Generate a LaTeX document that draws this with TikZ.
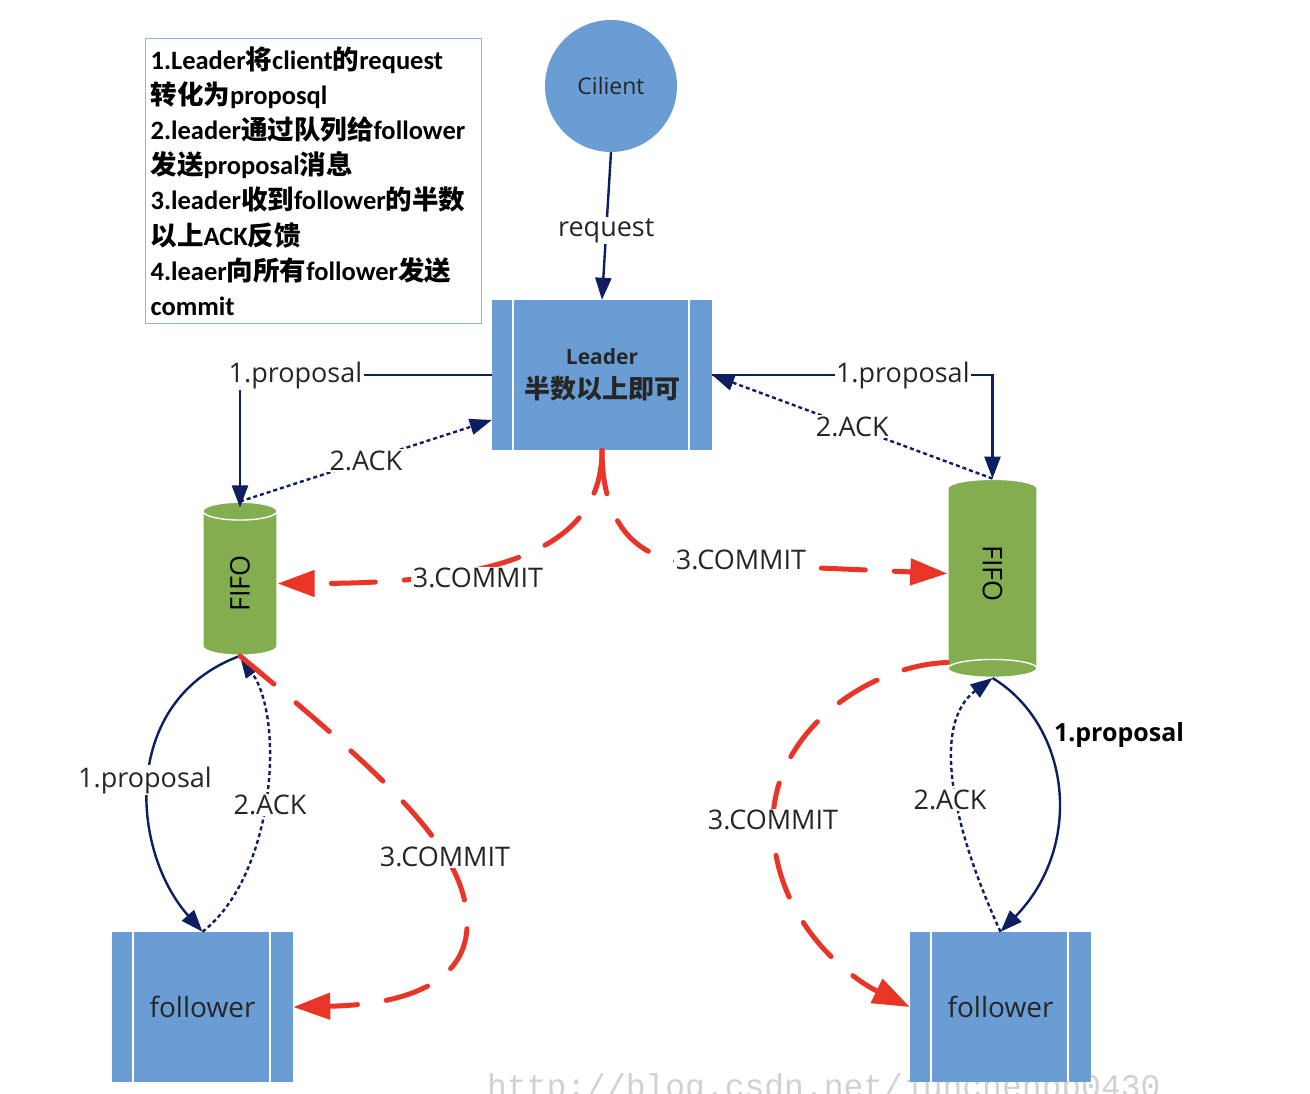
\documentclass[tikz,border=0pt]{standalone}
\usepackage{fontspec}
\setmainfont{Open Sans}
\newfontfamily\cjk{Noto Sans CJK SC}
\newfontfamily\notefont{Carlito}
\newfontfamily\markfont{Liberation Mono}
\usetikzlibrary{shapes.geometric,arrows.meta}

\definecolor{procblue}{RGB}{106,157,211}
\definecolor{fifogreen}{RGB}{130,174,80}
\definecolor{navy}{RGB}{14,30,98}
\definecolor{cmtred}{RGB}{233,52,40}
\definecolor{noteblue}{RGB}{141,180,226}
\definecolor{txtgray}{RGB}{38,38,38}

\begin{document}
\begin{tikzpicture}[
  x=1pt,y=-1pt,
  proc/.style={rectangle,fill=procblue,text=txtgray,inner sep=0pt,align=center,
    minimum width=#1,minimum height=150pt,
    path picture={
      \draw[white,line width=1.6pt]
        ([xshift=21pt]path picture bounding box.north west) --
        ([xshift=21pt]path picture bounding box.south west);
      \draw[white,line width=1.6pt]
        ([xshift=-23pt]path picture bounding box.north east) --
        ([xshift=-23pt]path picture bounding box.south east);}},
  proc/.default=181pt,
  fifo/.style={cylinder,aspect=0.9,fill=fifogreen,draw=white,line width=1.4pt,
    text=black,inner sep=0pt,font=\fontsize{27}{30}\selectfont},
  lbl/.style={fill=white,inner sep=1.5pt,text=txtgray,font=\fontsize{27}{30}\selectfont},
  prop/.style={navy,line width=2.4pt,-{Triangle[length=22pt,width=16pt]}},
  ack/.style={prop,dash pattern=on 4pt off 3pt},
  commit/.style={cmtred,line width=5pt,line cap=round,dash pattern=on 44pt off 29pt,
    -{Triangle[length=37pt,width=26pt]}},
]
  \fill[white] (0,0) rectangle (1310,1094);
  \useasboundingbox (0,0) rectangle (1310,1094);

  \node[anchor=base west,inner sep=0pt,text=black!18,
    font=\markfont\fontsize{33}{33}\selectfont] (mark) at (487,1097)
    {http://blog.csdn.net/junchenbb0430};

  % steps
  \node[draw=noteblue,line width=1.2pt,anchor=north west,inner xsep=5pt,inner ysep=0pt,
    minimum width=336pt,minimum height=285pt,text width=326pt,align=left,
    font=\notefont\bfseries\fontsize{26.5}{35.2}\selectfont] (notes) at (145,38)
    {1.Leader{\cjk 将}client{\cjk 的}request\\
     {\cjk 转化为}proposql\\
     2.leader{\cjk 通过队列给}follower\\
     {\cjk 发送}proposal{\cjk 消息}\\
     3.leader{\cjk 收到}follower{\cjk 的半数}\\
     {\cjk 以上}ACK{\cjk 反馈}\\
     4.leaer{\cjk 向所有}follower{\cjk 发送}\\
     commit};

  \node[circle,fill=procblue,minimum size=132pt,inner sep=0pt,text=txtgray,
    font=\fontsize{23}{26}\selectfont] (client) at (611,86) {Cilient};
  \node[proc=220pt,font=\fontsize{21}{34}\selectfont] (leader) at (602,375)
    {\bfseries Leader\\
     {\cjk\bfseries\fontsize{26}{34}\selectfont 半数以上即可}};

  \node[fifo,rotate=90,minimum width=74pt,minimum height=153pt] (fifoL) at (240,583.5) {FIFO};
  \node[fifo,rotate=-90,minimum width=89pt,minimum height=198pt] (fifoR) at (992.5,573.5) {FIFO};

  \node[proc,font=\fontsize{28}{30}\selectfont] (folL) at (202.5,1007) {follower};
  \node[proc,font=\fontsize{28}{30}\selectfont] (folR) at (1000.5,1007) {follower};

  % leader side
  \draw[prop] (client.south) -- node[lbl,pos=0.53] (req) {request} (leader.north);
  \draw[prop] (leader.west) -| node[lbl,pos=0.39] (propA) {1.proposal} ([yshift=-6pt]fifoL.east);
  \draw[ack] (fifoL.east) -- node[lbl] (ackA) {2.ACK} ([yshift=-45pt]leader.west);
  \draw[prop] (leader.east) -| node[lbl,pos=0.34] (propB) {1.proposal} (fifoR.west);
  \draw[ack] (fifoR.west) -- node[lbl] (ackB) {2.ACK} (leader.east);
  \draw[commit] (leader.south) .. controls +(0,95) and +(230,0) .. (fifoL.south);
  \draw[commit] (leader.south) .. controls (602,515) and (628,553) .. (680,562) -- (fifoR.south);
  \node[lbl] (cmtA) at (478,578) {3.COMMIT};
  \node[lbl] (cmtB) at (741,560) {3.COMMIT};

  % left follower
  \draw[prop] (fifoL.west) .. controls (120,700) and (130,850) .. (folL.north);
  \draw[ack] (folL.north) .. controls (275,875) and (285,720) .. (fifoL.west);
  \draw[commit] (fifoL.west) .. controls (390,780) and (465,850) .. (467,920)
    .. controls (470,990) and (390,1005) .. (folL.east);
  \node[lbl] (propC) at (145,780) {1.proposal};
  \node[lbl] (ackC) at (270,805) {2.ACK};
  \node[lbl] (cmtC) at (445,857) {3.COMMIT};

  % right follower
  \draw[commit] ([yshift=-89pt]fifoR.south) .. controls (870,665) and (775,730) .. (773,820)
    .. controls (772,920) and (850,978) .. (folR.west);
  \draw[ack] (folR.north) .. controls (950,822) and (932,723) .. (fifoR.east);
  \draw[prop] (fifoR.east) .. controls (1070,725) and (1085,845) .. (folR.north);
  \node[lbl] (cmtD) at (773,820) {3.COMMIT};
  \node[lbl] (ackD) at (950,800) {2.ACK};
  \node[text=black,inner sep=1pt,font=\bfseries\fontsize{25}{28}\selectfont] (propD) at (1119,735) {1.proposal};
\end{tikzpicture}
\end{document}
